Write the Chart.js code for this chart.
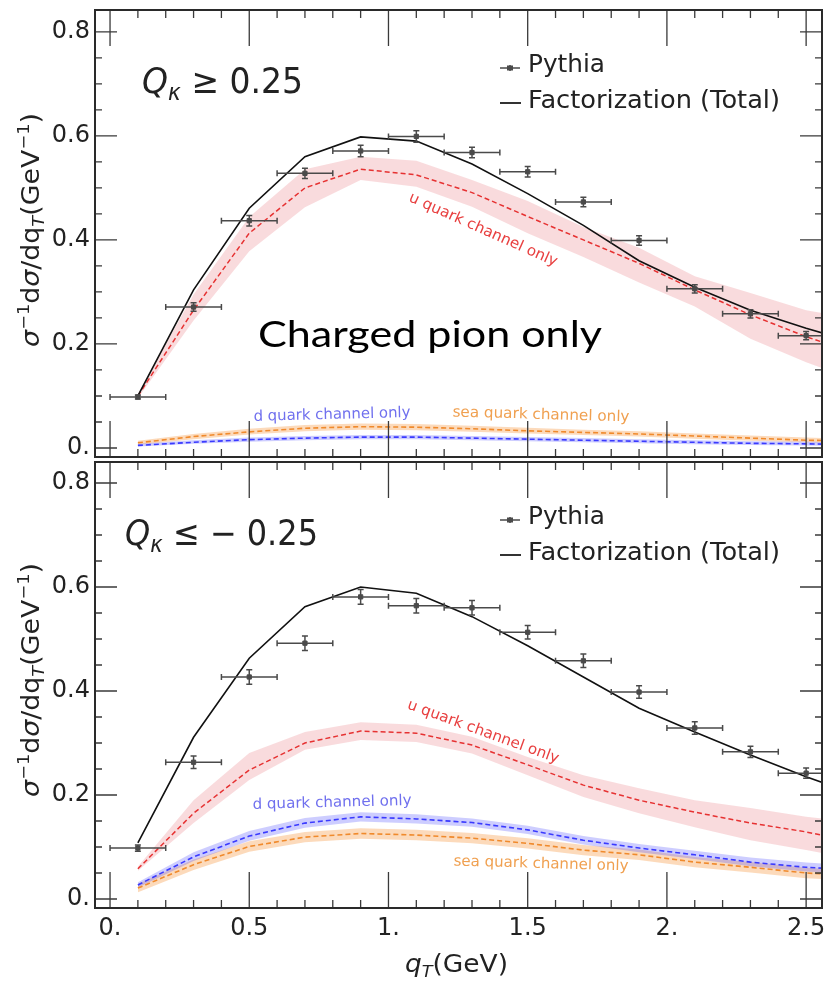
<!DOCTYPE html>
<html><head><meta charset="utf-8">
<script src="https://cdn.jsdelivr.net/npm/chart.js@4.4.1/dist/chart.umd.min.js"></script>
<style>
html,body{margin:0;padding:0;background:#fff;}
#wrap{position:relative;width:827px;height:983px;overflow:hidden;background:#fff;}
canvas{position:absolute;left:0;}
</style></head><body>
<div id="wrap">
<canvas id="cTop" width="827" height="470" style="top:0px"></canvas>
<canvas id="cBot" width="827" height="533" style="top:450px"></canvas>
</div>
<script>
// ---------------- data ----------------
const qT     = [0.1,0.3,0.5,0.7,0.9,1.1,1.3,1.5,1.7,1.9,2.1,2.3,2.5];
const qTLine = [0.1,0.3,0.5,0.7,0.9,1.1,1.3,1.5,1.7,1.9,2.1,2.3,2.5,2.6];
const qTBinHalf = 0.1;
const xTicks = [0,0.5,1,1.5,2,2.5];
const yTicks = [0,0.2,0.4,0.6,0.8];

// Q_kappa >= 0.25
const pythiaTop    = [0.098,0.271,0.437,0.528,0.571,0.599,0.568,0.531,0.473,0.399,0.306,0.258,0.216];
const pythiaTopErr = [0.004,0.008,0.010,0.010,0.011,0.011,0.010,0.010,0.009,0.009,0.008,0.008,0.008];
const totalTop = [0.100,0.304,0.461,0.560,0.598,0.590,0.546,0.489,0.428,0.360,0.309,0.265,0.230,0.215];
const uTop     = [0.100,0.265,0.413,0.500,0.536,0.525,0.491,0.445,0.400,0.355,0.304,0.256,0.214,0.196];
const uTopHi   = [0.104,0.295,0.444,0.536,0.560,0.552,0.515,0.475,0.425,0.385,0.330,0.298,0.265,0.255];
const uTopLo   = [0.096,0.245,0.378,0.463,0.515,0.502,0.464,0.413,0.367,0.318,0.272,0.210,0.165,0.145];
const dTop     = [0.005,0.011,0.016,0.019,0.021,0.021,0.019,0.017,0.015,0.013,0.011,0.009,0.008,0.007];
const dTopHi   = [0.008,0.015,0.020,0.023,0.025,0.025,0.023,0.021,0.019,0.017,0.015,0.013,0.012,0.011];
const dTopLo   = [0.003,0.008,0.012,0.015,0.017,0.017,0.015,0.013,0.011,0.009,0.007,0.006,0.005,0.004];
const seaTop   = [0.010,0.022,0.031,0.038,0.041,0.040,0.037,0.033,0.030,0.027,0.023,0.019,0.015,0.014];
const seaTopHi = [0.014,0.027,0.037,0.044,0.047,0.046,0.043,0.039,0.035,0.032,0.028,0.024,0.020,0.019];
const seaTopLo = [0.006,0.017,0.026,0.032,0.035,0.034,0.031,0.028,0.025,0.022,0.018,0.014,0.011,0.010];

// Q_kappa <= -0.25
const pythiaBot    = [0.098,0.263,0.427,0.492,0.581,0.564,0.560,0.513,0.458,0.398,0.329,0.283,0.242];
const pythiaBotErr = [0.006,0.012,0.014,0.014,0.014,0.014,0.014,0.013,0.013,0.012,0.012,0.011,0.010];
const totalBot = [0.108,0.311,0.463,0.562,0.600,0.588,0.543,0.487,0.427,0.367,0.321,0.277,0.235,0.216];
const uBot     = [0.058,0.165,0.248,0.300,0.323,0.319,0.296,0.258,0.219,0.190,0.167,0.146,0.129,0.118];
const uBotHi   = [0.062,0.190,0.281,0.321,0.340,0.335,0.312,0.273,0.238,0.213,0.190,0.175,0.158,0.152];
const uBotLo   = [0.054,0.146,0.229,0.287,0.306,0.302,0.280,0.238,0.196,0.165,0.138,0.113,0.094,0.084];
const dBot     = [0.027,0.081,0.121,0.146,0.158,0.154,0.147,0.133,0.113,0.098,0.085,0.071,0.061,0.058];
const dBotHi   = [0.032,0.090,0.131,0.156,0.167,0.163,0.155,0.141,0.121,0.106,0.093,0.080,0.070,0.067];
const dBotLo   = [0.022,0.073,0.112,0.137,0.149,0.145,0.139,0.125,0.105,0.090,0.077,0.063,0.053,0.050];
const seaBot   = [0.021,0.066,0.101,0.119,0.126,0.123,0.117,0.107,0.094,0.085,0.071,0.061,0.050,0.047];
const seaBotHi = [0.029,0.076,0.111,0.129,0.136,0.133,0.127,0.117,0.104,0.095,0.081,0.071,0.060,0.057];
const seaBotLo = [0.013,0.056,0.091,0.109,0.116,0.113,0.107,0.097,0.084,0.075,0.061,0.051,0.040,0.037];

// ---------------- styling ----------------
const FONT = '"DejaVu Sans", sans-serif';
const C = {
  axis:'#2a2a2a', tick:'#3a3a3a', text:'#222',
  pythia:'#4a4a4a', total:'#111111',
  u:'#e63232', uBand:'rgba(226,90,100,0.22)', uText:'#e84040',
  d:'#3a3aff', dBand:'rgba(90,90,255,0.30)', dText:'#7070ee',
  sea:'#f08a2c', seaBand:'rgba(245,150,60,0.35)', seaText:'#f0a050'
};
const fmt = v => { const r = Math.round(v*10)/10; return Number.isInteger(r) ? r + '.' : String(r); };
const pts = (xs, ys) => xs.map((x,i) => ({x, y: ys[i]}));

function rich(ctx, parts, o) {
  ctx.save();
  let W = 0;
  const fonts = parts.map(p => (p.it ? 'italic ' : '') + p.s + 'px ' + (p.f || FONT));
  const ws = parts.map((p,i) => { ctx.font = fonts[i]; const w = ctx.measureText(p.t).width; W += w; return w; });
  const sx = o.w ? o.w / W : 1;
  ctx.translate(o.x, o.y);
  if (o.rot) ctx.rotate(o.rot);
  ctx.scale(sx, 1);
  ctx.fillStyle = o.c || C.text;
  ctx.textBaseline = o.base || 'alphabetic';
  ctx.textAlign = 'left';
  let cx = o.align === 'center' ? -W/2 : 0;
  parts.forEach((p,i) => { ctx.font = fonts[i]; ctx.fillText(p.t, cx, p.dy || 0); cx += ws[i]; });
  ctx.restore();
}

function decoPlugin(p) {
  return {
    id: 'deco',
    afterDatasetsDraw(chart) {
      const {ctx, chartArea:a, scales:{x, y}} = chart;
      // error bars of Pythia
      ctx.save();
      ctx.beginPath(); ctx.rect(a.left, a.top, a.width, a.height); ctx.clip();
      ctx.strokeStyle = C.pythia; ctx.lineWidth = 1.5;
      ctx.beginPath();
      p.py.forEach((v,i) => {
        const px = x.getPixelForValue(qT[i]);
        const xl = x.getPixelForValue(qT[i]-qTBinHalf), xr = x.getPixelForValue(qT[i]+qTBinHalf);
        const yc = y.getPixelForValue(v), yt = y.getPixelForValue(v + p.pyErr[i]), yb = y.getPixelForValue(v - p.pyErr[i]);
        ctx.moveTo(xl, yc); ctx.lineTo(xr, yc);
        ctx.moveTo(xl, yc-3); ctx.lineTo(xl, yc+3);
        ctx.moveTo(xr, yc-3); ctx.lineTo(xr, yc+3);
        ctx.moveTo(px, yt); ctx.lineTo(px, yb);
        ctx.moveTo(px-3, yt); ctx.lineTo(px+3, yt);
        ctx.moveTo(px-3, yb); ctx.lineTo(px+3, yb);
      });
      ctx.stroke();
      ctx.restore();
    },
    afterDraw(chart) {
      const {ctx, chartArea:a, scales:{x, y}} = chart;
      const off = p.off;
      ctx.save();
      // ticks
      ctx.strokeStyle = C.tick; ctx.lineWidth = 1.3;
      ctx.beginPath();
      for (let k = 0; k <= 30; k++) {
        const v = k/10; if (v > x.max) break;
        const px = x.getPixelForValue(v), L = (k % 5 === 0) ? 36 : 8;
        ctx.moveTo(px, a.bottom); ctx.lineTo(px, a.bottom - L);
        ctx.moveTo(px, a.top); ctx.lineTo(px, a.top + L);
      }
      for (let k = 0; k <= 20; k++) {
        const v = k*0.05; if (v > y.max) break;
        const py = y.getPixelForValue(v), L = (k % 4 === 0) ? 22 : 7;
        ctx.moveTo(a.left, py); ctx.lineTo(a.left + L, py);
        ctx.moveTo(a.right, py); ctx.lineTo(a.right - L, py);
      }
      ctx.stroke();
      // frame
      ctx.strokeStyle = C.axis; ctx.lineWidth = 2;
      ctx.strokeRect(a.left, a.top, a.width, a.height);
      ctx.restore();

      // legend
      const lx = 500, t = a.top;
      ctx.save();
      ctx.strokeStyle = C.pythia; ctx.fillStyle = C.pythia; ctx.lineWidth = 1.5;
      ctx.beginPath();
      ctx.moveTo(lx, t+58); ctx.lineTo(lx+20, t+58);
      ctx.moveTo(lx+10, t+55); ctx.lineTo(lx+10, t+61);
      ctx.stroke();
      ctx.fillRect(lx+7, t+55.5, 6, 5);
      ctx.strokeStyle = '#333'; ctx.lineWidth = 2;
      ctx.beginPath(); ctx.moveTo(lx, t+93); ctx.lineTo(lx+21, t+93); ctx.stroke();
      ctx.restore();
      rich(ctx, [{t:'Pythia', s:25}], {x:528, y:t+62, w:77});
      rich(ctx, [{t:'Factorization (Total)', s:25}], {x:528, y:t+98, w:252});

      // Q label
      rich(ctx, [{t:'Q', s:35, it:true}, {t:'κ', s:23, it:true, dy:7}, {t:p.qText, s:35}],
           {x:p.q.x, y:p.q.y - off, w:p.q.w});

      // y-axis title
      rich(ctx, [{t:'σ', s:24, it:true}, {t:'−1', s:16, dy:-10}, {t:'d', s:24}, {t:'σ', s:24, it:true},
                 {t:'/dq', s:24}, {t:'T', s:16, it:true, dy:5}, {t:'(GeV', s:24}, {t:'−1', s:16, dy:-10}, {t:')', s:24}],
           {x:39, y:p.yTitleY - off, rot:-Math.PI/2, align:'center', w:234});

      // channel annotations
      p.notes.forEach(n => rich(ctx, [{t:n.t, s:15}],
        {x:n.x, y:n.y - off, rot:n.r*Math.PI/180, align:'center', base:'middle', w:n.w, c:n.c}));

      if (p.extra) p.extra(ctx, off);
    }
  };
}

function buildChart(canvasId, p) {
  const ds = [
    {data: pts(qT, p.py), showLine:false, pointStyle:'rect', pointRadius:3, pointBackgroundColor:C.pythia, pointBorderColor:C.pythia, order:0},
    {data: pts(qTLine, p.total), borderColor:C.total, borderWidth:1.6, pointRadius:0, order:1},
    {data: pts(qTLine, p.u), borderColor:C.u, borderWidth:1.5, borderDash:[5,3], pointRadius:0, order:2},
    {data: pts(qTLine, p.d), borderColor:C.d, borderWidth:1.6, borderDash:[5,3], pointRadius:0, order:3},
    {data: pts(qTLine, p.sea), borderColor:C.sea, borderWidth:1.6, borderDash:[5,3], pointRadius:0, order:4},
    {data: pts(qTLine, p.uHi), borderWidth:0, pointRadius:0, backgroundColor:C.uBand, fill:'+1', order:10},
    {data: pts(qTLine, p.uLo), borderWidth:0, pointRadius:0, order:11},
    {data: pts(qTLine, p.dHi), borderWidth:0, pointRadius:0, backgroundColor:C.dBand, fill:'+1', order:12},
    {data: pts(qTLine, p.dLo), borderWidth:0, pointRadius:0, order:13},
    {data: pts(qTLine, p.seaHi), borderWidth:0, pointRadius:0, backgroundColor:C.seaBand, fill:'+1', order:14},
    {data: pts(qTLine, p.seaLo), borderWidth:0, pointRadius:0, order:15}
  ];
  ds.forEach(d => { d.tension = 0; });
  return new Chart(document.getElementById(canvasId), {
    type:'line',
    data:{datasets: ds},
    options:{
      responsive:false, animation:false, devicePixelRatio:1,
      layout:{padding:p.pad},
      plugins:{legend:{display:false}, tooltip:{enabled:false}},
      scales:{
        x:{type:'linear', min:-0.054, max:2.557, display:p.showX, position:'bottom',
           afterBuildTicks: s => { s.ticks = xTicks.map(v => ({value:v})); },
           afterFit: s => { s.height = p.xH; s.paddingLeft = 0; s.paddingRight = 0; },
           grid:{display:false, drawTicks:false}, border:{display:false},
           ticks:{padding:6, maxRotation:0, autoSkip:false, color:C.text, font:{family:FONT, size:24}, callback: v => fmt(v)}},
        y:{type:'linear', min:p.yMin, max:p.yMax,
           afterBuildTicks: s => { s.ticks = yTicks.map(v => ({value:v})); },
           afterFit: s => { s.width = 95; s.paddingTop = 0; s.paddingBottom = 0; },
           grid:{display:false, drawTicks:false}, border:{display:false},
           ticks:{padding:5, color:C.text, font:{family:FONT, size:24}, callback: v => fmt(v)}}
      }
    },
    plugins:[decoPlugin(p)]
  });
}

// top panel: chart area 10..457 (page), y=0 at 448, 520 px/unit
buildChart('cTop', {
  off:0, pad:{top:10, right:4, bottom:13, left:0}, showX:false, xH:0,
  yMin:-0.0173, yMax:0.842,
  py:pythiaTop, pyErr:pythiaTopErr, total:totalTop, u:uTop, uHi:uTopHi, uLo:uTopLo,
  d:dTop, dHi:dTopHi, dLo:dTopLo, sea:seaTop, seaHi:seaTopHi, seaLo:seaTopLo,
  qText:' ≥ 0.25', q:{x:142, y:93, w:161}, yTitleY:230,
  notes:[
    {t:'u quark channel only', x:483, y:230, r:24, w:161, c:C.uText},
    {t:'d quark channel only', x:332, y:415, r:-1.5, w:157, c:C.dText},
    {t:'sea quark channel only', x:541, y:415, r:1.6, w:177, c:C.seaText}
  ],
  extra:(ctx, off) => rich(ctx, [{t:'Charged pion only', s:37, f:'Lato, "Open Sans", sans-serif'}], {x:258, y:347 - off, w:344, c:'#000'})
});

// bottom panel: chart area 462..908 (page), y=0 at 899
buildChart('cBot', {
  off:450, pad:{top:12, right:4, bottom:0, left:0}, showX:true, xH:75,
  yMin:-0.0173, yMax:0.8404,
  py:pythiaBot, pyErr:pythiaBotErr, total:totalBot, u:uBot, uHi:uBotHi, uLo:uBotLo,
  d:dBot, dHi:dBotHi, dLo:dBotLo, sea:seaBot, seaHi:seaBotHi, seaLo:seaBotLo,
  qText:' ≤ − 0.25', q:{x:125, y:545, w:193}, yTitleY:680,
  notes:[
    {t:'u quark channel only', x:483, y:732, r:20, w:160, c:C.uText},
    {t:'d quark channel only', x:332, y:803, r:-1.5, w:159, c:C.dText},
    {t:'sea quark channel only', x:541, y:864, r:1.6, w:175, c:C.seaText}
  ],
  extra:(ctx, off) => rich(ctx, [{t:'q', s:24, it:true}, {t:'T', s:16, it:true, dy:5}, {t:'(GeV)', s:24}], {x:405, y:972 - off, w:103})
});
</script>
</body></html>
